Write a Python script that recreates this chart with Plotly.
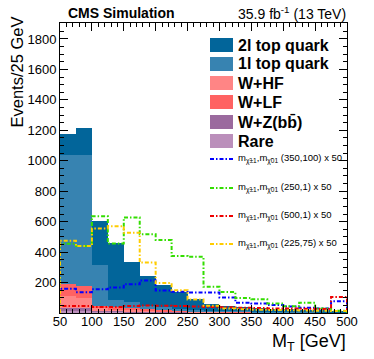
import plotly.graph_objs as go

# 25 GeV bins from 50 to 500
edges = [50 + 25 * i for i in range(19)]
centers = [e + 12.5 for e in edges[:-1]]

# stacked backgrounds (events per bin)
rare = [15, 15, 8, 7, 6, 5, 4, 4, 3, 3, 2, 2, 2, 2, 2, 1, 1, 1]
wz = [18, 18, 10, 8, 6, 5, 4, 3, 3, 2, 2, 2, 1, 1, 1, 1, 1, 1]
whf = [79, 68, 12, 10, 8, 6, 5, 4, 3, 2, 2, 2, 1, 1, 1, 1, 1, 1]
wlf = [77, 79, 15, 12, 10, 8, 6, 5, 4, 3, 2, 2, 2, 1, 1, 1, 1, 1]
top1l = [851, 856, 273, 50, 40, 25, 18, 12, 8, 6, 5, 4, 3, 3, 2, 2, 2, 2]
top2l = [135, 179, 289, 373, 265, 195, 145, 109, 74, 46, 33, 28, 23, 20, 17, 16, 12, 9]

# signals x 50
sig_350_100 = [160, 137, 156, 167, 189, 213, 147, 140, 134, 134, 101, 68, 62, 52, 42, 35, 30, 78]
sig_250_1 = [455, 440, 636, 457, 627, 518, 479, 374, 369, 172, 138, 98, 90, 62, 45, 68, 30, 14]
sig_500_1 = [46, 46, 40, 40, 46, 50, 48, 46, 42, 40, 38, 35, 33, 30, 30, 28, 26, 105]
sig_225_75 = [475, 440, 555, 570, 527, 332, 197, 150, 88, 48, 30, 25, 22, 20, 18, 16, 15, 13]

# stacking order, bottom to top
bkgs = [
    ('Rare', rare, '#BB8FBB'),
    ('W+Z(bb̄)', wz, '#9B6A9E'),
    ('W+HF', whf, '#FF8585'),
    ('W+LF', wlf, '#FF6262'),
    ('1l top quark', top1l, '#3783B1'),
    ('2l top quark', top2l, '#02659A'),
]
legend_order = ['2l top quark', '1l top quark', 'W+HF', 'W+LF', 'W+Z(bb̄)', 'Rare']
sigs = [
    ('(350,100) x 50', sig_350_100, '#0000FF'),
    ('(250,1) x 50', sig_250_1, '#33DD00'),
    ('(500,1) x 50', sig_500_1, '#EE0000'),
    ('(225,75) x 50', sig_225_75, '#FFCC00'),
]
DASH = '4px,2px,1.5px,2px'

# window size and plot area in pixels (page body margin removed below)
W, H = 374, 359
L, R, T, B = 60, 347, 23, 313


def px(x):
    return (x - L) / (R - L)


def py(y):
    return (B - y) / (B - T)


fig = go.Figure()
for name, vals, col in bkgs:
    fig.add_trace(go.Bar(x=centers, y=vals, width=25, name=name,
                         marker=dict(color=col, line=dict(width=0))))

for name, vals, col in sigs:
    xs = [edges[0]] + edges[:-1] + [edges[-1], edges[-1]]
    ys = [0] + vals + [vals[-1], 0]
    fig.add_trace(go.Scatter(x=xs, y=ys, mode='lines', line_shape='hv', name=name,
                             line=dict(color=col, width=2, dash=DASH)))

fig.update_layout(
    width=W, height=H,
    barmode='stack', bargap=0,
    showlegend=False,
    plot_bgcolor='white', paper_bgcolor='white',
    margin=dict(l=L, r=W - R, t=T, b=H - B),
    font=dict(family='Liberation Sans, Arial, sans-serif', size=12, color='black'),
)
fig.update_xaxes(range=[50, 500], tickvals=list(range(50, 501, 50)),
                 showline=True, linecolor='black', linewidth=1, mirror='ticks',
                 ticks='inside', ticklen=8, tickcolor='black', showgrid=False, zeroline=False,
                 tickfont=dict(size=13), ticklabelstandoff=-4,
                 minor=dict(ticks='inside', ticklen=4, dtick=10, tickcolor='black', showgrid=False))
fig.update_yaxes(range=[0, 1905], tickvals=list(range(200, 1801, 200)),
                 showline=True, linecolor='black', linewidth=1, mirror='ticks',
                 ticks='inside', ticklen=8, tickcolor='black', showgrid=False, zeroline=False,
                 tickfont=dict(size=13),
                 minor=dict(ticks='inside', ticklen=4, dtick=50, tickcolor='black', showgrid=False))

ann = []
ann.append(dict(text='<b>CMS Simulation</b>', x=px(66), y=py(13), xanchor='left', yanchor='middle',
                font=dict(size=14)))
ann.append(dict(text='35.9 fb<sup>-1</sup> (13 TeV)', x=px(348), y=py(13), xanchor='right',
                yanchor='middle', font=dict(size=14)))
ann.append(dict(text='Events/25 GeV', x=px(17), y=py(15), xanchor='center', yanchor='top',
                textangle=-90, font=dict(size=16.5)))
ann.append(dict(text='M<sub>T</sub> [GeV]', x=px(348), y=py(329), xanchor='right',
                yanchor='top', font=dict(size=18)))

# legend drawn by hand
shapes = []
box_y = [45, 64, 83, 102, 122, 141]
colors = {name: col for name, vals, col in bkgs}
for name, yc in zip(legend_order, box_y):
    shapes.append(dict(type='rect', xref='paper', yref='paper', x0=px(210), x1=px(233),
                       y0=py(yc - 7), y1=py(yc + 7), fillcolor=colors[name], line=dict(width=0)))
    ann.append(dict(text='<b>' + name + '</b>', x=px(236), y=py(yc), xanchor='left',
                    yanchor='middle', font=dict(size=16)))

line_y = [159, 188, 216, 244]
for (name, vals, col), yc in zip(sigs, line_y):
    shapes.append(dict(type='line', xref='paper', yref='paper', x0=px(210), x1=px(233),
                       y0=py(yc), y1=py(yc),
                       line=dict(color=col, width=2, dash=DASH)))
    ann.append(dict(text='m<sub>χ̃±1</sub>,m<sub>χ̃01</sub> ' + name, x=px(236), y=py(yc - 1),
                    xanchor='left', yanchor='middle', font=dict(size=9.5)))

for a in ann:
    a.update(xref='paper', yref='paper', showarrow=False)
fig.update_layout(annotations=ann, shapes=shapes)

fig.write_html("out.html", config={'displayModeBar': False},
               post_script="document.body.style.margin = '0px';")
